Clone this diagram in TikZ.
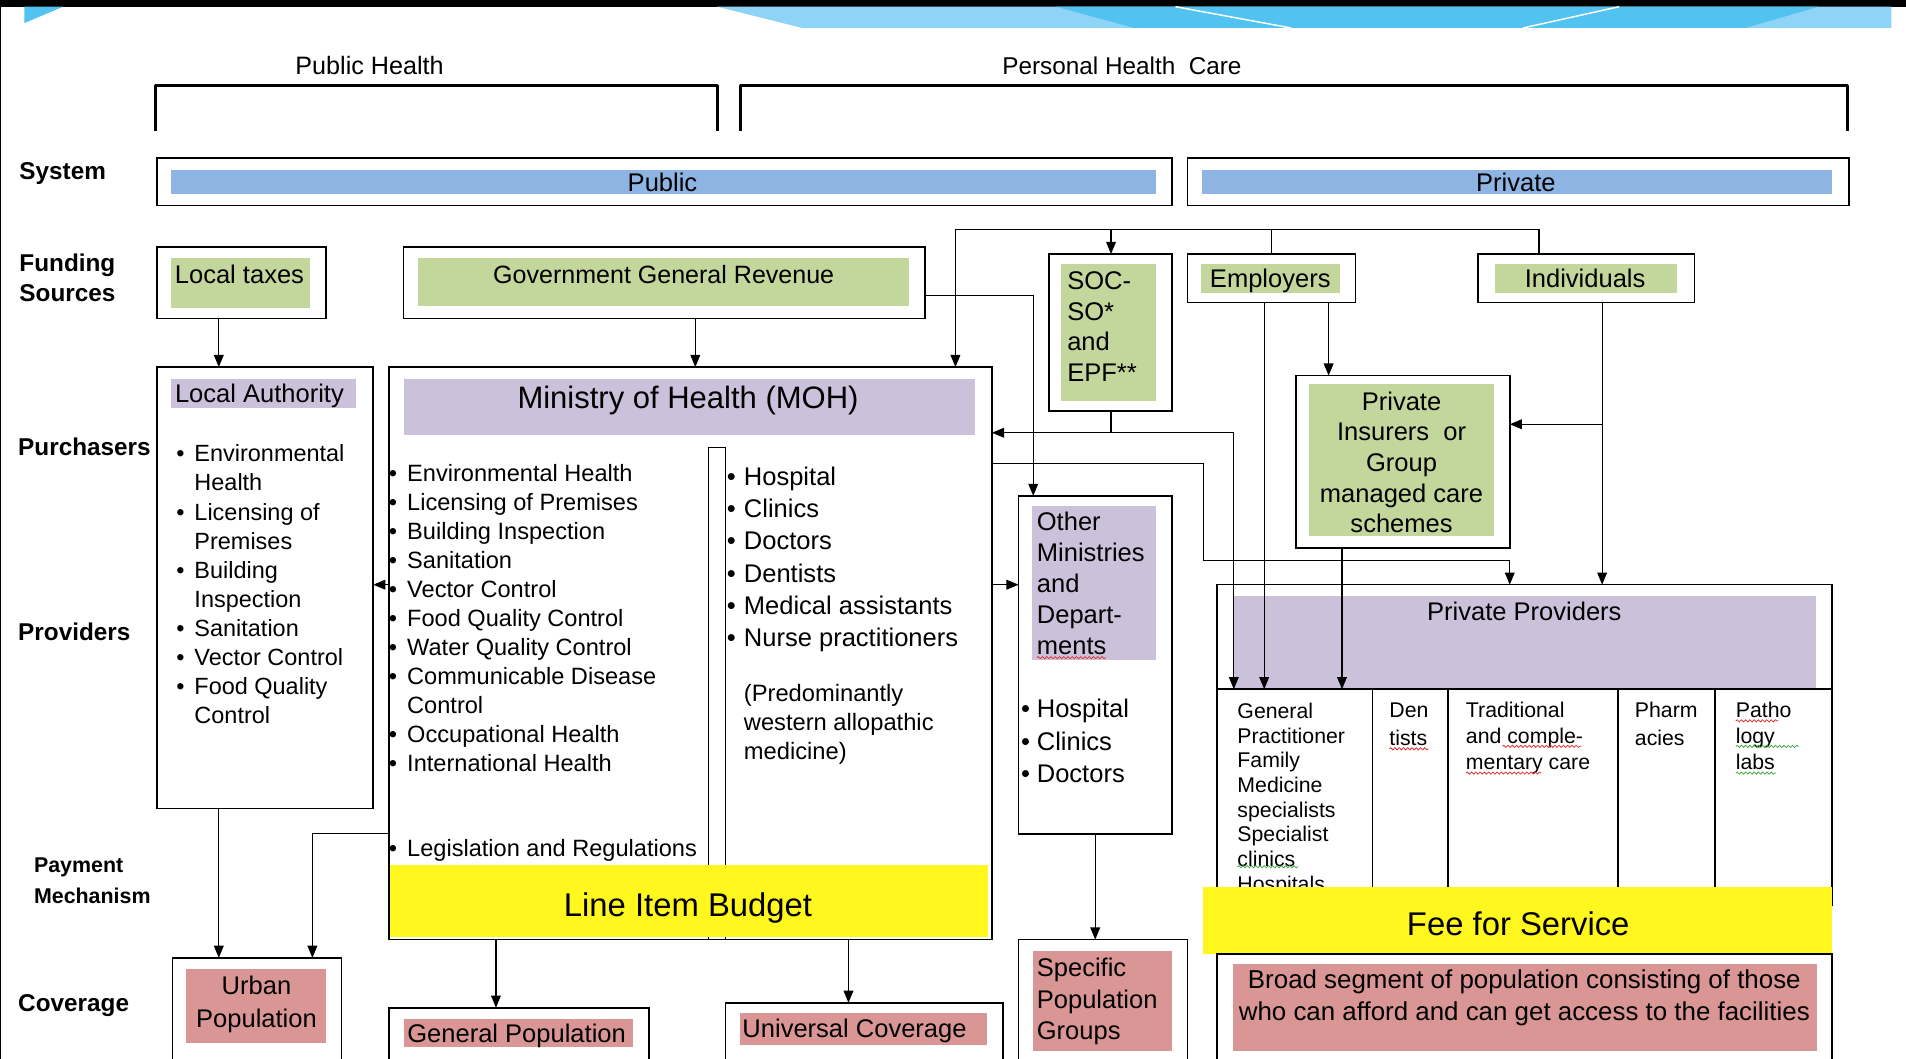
\documentclass[tikz,border=0pt]{standalone}
\usepackage{fontspec}
\setmainfont{Liberation Sans}
\usetikzlibrary{arrows.meta,decorations.pathmorphing}
\definecolor{barblue}{RGB}{141,180,226}
\definecolor{gfill}{RGB}{195,214,155}
\definecolor{pfill}{RGB}{204,193,218}
\definecolor{rfill}{RGB}{217,150,148}
\definecolor{yfill}{RGB}{255,247,29}
\definecolor{bandlight}{RGB}{142,212,246}
\definecolor{banddark}{RGB}{82,195,241}
\definecolor{sqred}{RGB}{225,45,45}
\definecolor{sqgreen}{RGB}{60,165,60}
\newcommand{\fsz}[2]{\fontsize{#1pt}{#2pt}\selectfont}
\newcommand{\mylft}[1]{\begin{tabular}[t]{@{}l@{}}#1\end{tabular}}
\newcommand{\myctr}[1]{\begin{tabular}[t]{@{}c@{}}#1\end{tabular}}
\newcommand{\blt}[1]{\makebox[#1][l]{\textbullet}}
\tikzset{
  obox/.style={draw=black, line width=1.3pt, fill=white, anchor=north west, inner sep=0pt, outer sep=0pt},
  fbox/.style={anchor=north west, inner sep=0pt, outer sep=0pt},
  txt/.style={inner sep=0pt, outer sep=0pt, anchor=base},
  ltxt/.style={inner sep=0pt, outer sep=0pt, anchor=base west},
  con/.style={line width=1pt},
  arr/.style={con, -{Triangle[length=10pt,width=8pt]}},
  brk/.style={line width=2.4pt, line join=round},
  sq/.style={decorate, decoration={snake, segment length=3.5pt, amplitude=0.9pt}, line width=0.6pt},
  f21/.style={font=\fsz{21}{25}},
  lab/.style={ltxt, font=\bfseries\fsz{20}{25}},
}
\begin{document}
\begin{tikzpicture}[x=1pt,y=-1pt]
\useasboundingbox (0,0) rectangle (1568,871);
\fill[white] (0,0) rectangle (1568,871);
% top band
\fill[black] (0,0) rectangle (1568,5.5);
\fill[bandlight] (590,5.5) -- (1556,5.5) -- (1556,23) -- (660,23) -- cycle;
\fill[banddark] (869,5.5) -- (1496,5.5) -- (1436,23) -- (933,23) -- cycle;
\draw[white, line width=1.2pt] (967,5.5) -- (1062,23);
\draw[white, line width=1.2pt] (1332,5.5) -- (1253,23);
\fill[banddark] (20,5.5) -- (52,5.5) -- (20,19) -- cycle;
\draw[line width=1.2pt] (0.6,5.5) -- (0.6,871);

% headers
\node[txt, font=\fsz{20.7}{25}] (hph) at (304,61.5) {Public Health};
\node[txt, font=\fsz{20}{25}] (hpc) at (923,61) {Personal Health~ Care};
\draw[brk] (128,108) -- (128,70) -- (590,70) -- (590,108);
\draw[brk] (609,108) -- (609,70) -- (1520,70) -- (1520,108);

% row labels
\node[lab] (lsys) at (16,148) {System};
\node[lab] (lfund) at (16,223) {\mylft{Funding\\Sources}};
\node[lab] (lpur) at (15,375) {Purchasers};
\node[lab] (lprov) at (15,527) {Providers};
\node[ltxt, font=\bfseries\fsz{17.6}{25}] (lpay) at (28,718) {\mylft{Payment\\Mechanism}};
\node[lab] (lcov) at (15,832) {Coverage};

% System
\node[obox, minimum width=835pt, minimum height=39pt] (pubsys) at (129,130) {};
\node[fbox, fill=barblue, minimum width=810pt, minimum height=20pt] (pubbar) at (141,140) {};
\node[txt, f21] (pubtxt) at (545,157.5) {Public};
\node[obox, minimum width=544pt, minimum height=39pt] (privsys) at (977,130) {};
\node[fbox, fill=barblue, minimum width=518pt, minimum height=20pt] (privbar) at (989,140) {};
\node[txt, f21] (privtxt) at (1247,157.5) {Private};

% Funding
\node[obox, minimum width=139pt, minimum height=59pt] (lt) at (129,203) {};
\node[fbox, fill=gfill, minimum width=114pt, minimum height=41pt] (ltg) at (141,212) {};
\node[txt, f21] (ltt) at (197,233.5) {Local taxes};
\node[obox, minimum width=429pt, minimum height=59pt] (ggr) at (332,203) {};
\node[fbox, fill=gfill, minimum width=404pt, minimum height=40pt] (ggrg) at (344,212) {};
\node[txt, font=\fsz{20.6}{25}] (ggrt) at (546,233.5) {Government General Revenue};
\node[obox, minimum width=101pt, minimum height=129pt] (soc) at (863,209) {};
\node[fbox, fill=gfill, minimum width=78pt, minimum height=113pt] (socg) at (873,217) {};
\node[ltxt, font=\fsz{21}{25.3}] (soct) at (878,238) {\mylft{SOC-\\SO*\\and\\EPF**}};
\node[obox, minimum width=138pt, minimum height=40pt] (emp) at (977,209) {};
\node[fbox, fill=gfill, minimum width=114pt, minimum height=24pt] (empg) at (988,217) {};
\node[txt, f21] (empt) at (1045,236.5) {Employers};
\node[obox, minimum width=178pt, minimum height=40pt] (ind) at (1216,209) {};
\node[fbox, fill=gfill, minimum width=150pt, minimum height=24pt] (indg) at (1230,217) {};
\node[txt, f21] (indt) at (1304,236.5) {Individuals};
\node[obox, minimum width=176pt, minimum height=142pt] (pins) at (1066,309) {};
\node[fbox, fill=gfill, minimum width=152pt, minimum height=125pt] (pinsg) at (1077,316) {};
\node[txt, font=\fsz{21}{25.2}] (pinst) at (1153,337.5) {\myctr{Private\\Insurers~ or\\Group\\managed care\\schemes}};

% Local Authority
\node[obox, minimum width=178pt, minimum height=363pt] (la) at (129,302) {};
\node[fbox, fill=pfill, minimum width=152pt, minimum height=24pt] (lap) at (141,312) {};
\node[ltxt, f21] (lat) at (144,331.5) {Local Authority};
\node[ltxt, font=\fsz{19.3}{23.9}] (lalist) at (145,380) {\mylft{\blt{15pt}Environmental\\\hspace{15pt}Health\\\blt{15pt}Licensing of\\\hspace{15pt}Premises\\\blt{15pt}Building\\\hspace{15pt}Inspection\\\blt{15pt}Sanitation\\\blt{15pt}Vector Control\\\blt{15pt}Food Quality\\\hspace{15pt}Control}};

% MOH
\node[obox, minimum width=496pt, minimum height=471pt] (moh) at (320,302) {};
\node[fbox, fill=pfill, minimum width=470pt, minimum height=46pt] (mohp) at (332,312) {};
\node[txt, font=\fsz{25.5}{30}] (moht) at (566,336) {Ministry of Health (MOH)};
\node[obox, line width=1pt, minimum width=14pt, minimum height=405pt] (mohsep) at (583,368) {};
\node[ltxt, font=\fsz{19.4}{23.9}] (mohl) at (320,396) {\mylft{\blt{15pt}Environmental Health\\\blt{15pt}Licensing of Premises\\\blt{15pt}Building Inspection\\\blt{15pt}Sanitation\\\blt{15pt}Vector Control\\\blt{15pt}Food Quality Control\\\blt{15pt}Water Quality Control\\\blt{15pt}Communicable Disease\\\hspace{15pt}Control\\\blt{15pt}Occupational Health\\\blt{15pt}International Health}};
\node[ltxt, font=\fsz{19.4}{23.9}] (mohleg) at (320,705) {\blt{15pt}Legislation and Regulations};
\node[ltxt, font=\fsz{21}{26.6}] (mohr) at (598,399) {\mylft{\blt{14pt}Hospital\\\blt{14pt}Clinics\\\blt{14pt}Doctors\\\blt{14pt}Dentists\\\blt{14pt}Medical assistants\\\blt{14pt}Nurse practitioners}};
\node[ltxt, font=\fsz{19.5}{24}] (mohpre) at (612,577) {\mylft{(Predominantly\\western allopathic\\medicine)}};

% Other ministries
\node[obox, minimum width=126pt, minimum height=278pt] (om) at (838,408) {};
\node[fbox, fill=pfill, minimum width=102pt, minimum height=127pt] (omp) at (849,416) {};
\node[ltxt, font=\fsz{21}{25.5}] (omt) at (853,436.5) {\mylft{Other\\Ministries\\and\\Depart-\\ments}};
\node[ltxt, font=\fsz{21}{26.5}] (oml) at (840,590.5) {\mylft{\blt{13pt}Hospital\\\blt{13pt}Clinics\\\blt{13pt}Doctors}};

% Private providers
\node[obox, minimum width=506pt, minimum height=264pt] (pp) at (1001,481) {};
\node[fbox, fill=pfill, minimum width=480pt, minimum height=76pt] (ppp) at (1014,490) {};
\node[txt, f21] (ppt) at (1254,510.5) {Private Providers};
\coordinate (cellL) at (1001,567);
\coordinate (cellR) at (1507,567);
\draw[line width=1.3pt] (cellL) -- (cellR);
\foreach \xx in {1129,1191,1331,1411} \draw[line width=1.3pt] (\xx,567) -- (\xx,745);
\node[ltxt, font=\fsz{17.5}{20.3}] (c1) at (1018,591) {\mylft{General\\Practitioner\\Family\\Medicine\\specialists\\Specialist\\clinics\\Hospitals}};
\node[ltxt, font=\fsz{17.5}{23}] (c2) at (1143,590) {\mylft{Den\\tists}};
\node[ltxt, font=\fsz{17.5}{21.5}] (c3) at (1206,590) {\mylft{Traditional\\and comple-\\mentary care}};
\node[ltxt, font=\fsz{17.5}{23}] (c4) at (1345,590) {\mylft{Pharm\\acies}};
\node[ltxt, font=\fsz{17.5}{21.5}] (c5) at (1428,590) {\mylft{Patho\\logy\\labs}};

% squiggles
\draw[sq, sqred] (853,541) -- (910,541);
\draw[sq, sqred] (1143,616) -- (1175,616);
\draw[sq, sqred] (1236,614) -- (1301,614);
\draw[sq, sqred] (1206,636) -- (1268,636);
\draw[sq, sqred] (1428,593) -- (1463,593);
\draw[sq, sqgreen] (1428,614) -- (1480,614);
\draw[sq, sqgreen] (1428,636) -- (1461,636);
\draw[sq, sqgreen] (1018,713) -- (1068,713);

% Payment mechanism
\node[fbox, fill=yfill, minimum width=492pt, minimum height=59pt] (lib) at (321,712) {};
\node[txt, font=\fsz{27}{32}] (libt) at (566,753.7) {Line Item Budget};
\node[fbox, fill=yfill, minimum width=517pt, minimum height=55pt] (ffs) at (990,730) {};
\node[txt, font=\fsz{27}{32}] (ffst) at (1249,769.7) {Fee for Service};

% Coverage
\node[obox, minimum width=139pt, minimum height=85pt] (urban) at (142,788) {};
\node[fbox, fill=rfill, minimum width=115pt, minimum height=61pt] (urbanp) at (153,797) {};
\node[txt, font=\fsz{21}{27}] (urbant) at (211,818.5) {\myctr{Urban\\Population}};
\node[obox, minimum width=214pt, minimum height=45pt] (genpop) at (320,829) {};
\node[fbox, fill=rfill, minimum width=189pt, minimum height=23pt] (genpopp) at (332,838) {};
\node[txt, f21] (genpopt) at (425,857.5) {General Population};
\node[obox, minimum width=228pt, minimum height=48pt] (univ) at (597,825) {};
\node[fbox, fill=rfill, minimum width=203pt, minimum height=27pt] (univp) at (609,833) {};
\node[txt, f21] (univt) at (703,853.5) {Universal Coverage};
\node[obox, minimum width=139pt, minimum height=100pt] (spec) at (838,773) {};
\node[fbox, fill=rfill, minimum width=114pt, minimum height=83pt] (specp) at (850,782) {};
\node[ltxt, font=\fsz{21}{26}] (spect) at (853,803.5) {\mylft{Specific\\Population\\Groups}};
\node[obox, minimum width=506pt, minimum height=90pt] (broad) at (1001,785) {};
\node[fbox, fill=rfill, minimum width=481pt, minimum height=72pt] (broadp) at (1014,793) {};
\node[txt, font=\fsz{21.3}{26}] (broadt) at (1254,813.5) {\myctr{Broad segment of population consisting of those\\who can afford and can get access to the facilities}};

% connectors
\draw[arr] (180,0 |- lt.south) -- (180,0 |- la.north);
\draw[arr] (572,0 |- ggr.south) -- (572,0 |- moh.north);
\coordinate (jL) at (786,189);
\coordinate (jS) at (914,189);
\coordinate (jE) at (1046,189);
\coordinate (jR) at (1266,189);
\draw[arr] (jR |- ind.north) -- (jR) -- (jL) -- (jL |- moh.north);
\draw[con] (jE |- emp.north) -- (jE);
\draw[arr] (jS) -- (jS |- soc.north);
\draw[arr] (ggr.east |- 0,243) -- (850,243) -- (850,0 |- om.north);
\coordinate (sJ) at (914,356);
\draw[arr] (sJ |- soc.south) -- (sJ) -- (moh.east |- sJ);
\draw[arr] (sJ) -- (1015,356) -- (1015,0 |- cellL);
\draw[arr] (moh.east |- 0,381) -- (990,381) -- (990,461) -- (1242,461) -- (1242,0 |- pp.north);
\draw[arr] (1040,0 |- emp.south) -- (1040,0 |- cellL);
\draw[arr] (1093,0 |- emp.south) -- (1093,0 |- pins.north);
\draw[arr] (1318,0 |- ind.south) -- (1318,0 |- pp.north);
\draw[arr] (1318,349) -- (pins.east |- 0,349);
\draw[arr] (1104,0 |- pins.south) -- (1104,0 |- cellL);
\draw[arr] (moh.west |- 0,481) -- (la.east |- 0,481);
\draw[arr] (moh.east |- 0,481) -- (om.west |- 0,481);
\draw[arr] (180,0 |- la.south) -- (180,0 |- urban.north);
\draw[arr] (moh.west |- 0,686) -- (257,686) -- (257,0 |- urban.north);
\draw[arr] (408,0 |- moh.south) -- (408,0 |- genpop.north);
\draw[arr] (698,0 |- moh.south) -- (698,0 |- univ.north);
\draw[arr] (901,0 |- om.south) -- (901,0 |- spec.north);
\end{tikzpicture}
\end{document}
